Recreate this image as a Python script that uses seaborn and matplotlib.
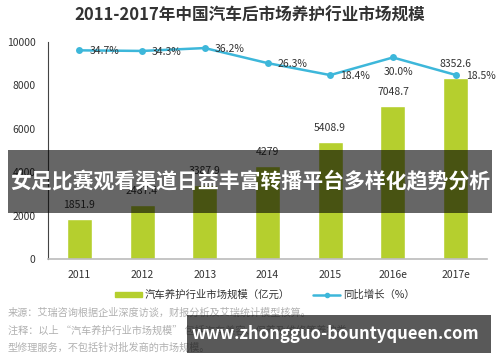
import numpy as np
import pandas as pd
import seaborn as sns
import matplotlib.pyplot as plt
from matplotlib.patches import Rectangle, Patch
from matplotlib.lines import Line2D

# Chart data
years = ['2011', '2012', '2013', '2014', '2015', '2016e', '2017e']
market_size = [1851.9, 2487.4, 3387.9, 4279, 5408.9, 7048.7, 8352.6]
market_labels = ['1851.9', '2487.4', '3387.9', '4279', '5408.9', '7048.7', '8352.6']
growth = [34.7, 34.3, 36.2, 26.3, 18.4, 30.0, 18.5]
growth_labels = ['34.7%', '34.3%', '36.2%', '26.3%', '18.4%', '30.0%', '18.5%']
y_ticks = [0, 2000, 4000, 6000, 8000, 10000]

title = '2011-2017年中国汽车后市场养护行业市场规模'
legend_bar = '汽车养护行业市场规模（亿元）'
legend_line = '同比增长（%）'
source_lines = [
    '来源：艾瑞咨询根据企业深度访谈，财报分析及艾瑞统计模型核算。',
    '注释：以上 “汽车养护行业市场规模” 包括汽车美容、保养及维修等养护类',
    '型修理服务，不包括针对批发商的市场规模。',
]
banner_text = '女足比赛观看渠道日益丰富转播平台多样化趋势分析'
watermark = 'www.zhongguo-bountyqueen.com'

BAR_GREEN = '#b5cf2e'
LINE_BLUE = '#3db7da'
TEXT = '#333333'

sns.set_theme(style='white')
plt.rcParams['font.family'] = ['Noto Sans CJK SC', 'DejaVu Sans']

df = pd.DataFrame({'year': years, 'size': market_size, 'growth': growth})
df['pos'] = np.arange(len(years))

fig = plt.figure(figsize=(5, 3.62), dpi=100)
ax = fig.add_axes([0.096, 0.2845, 0.878, 0.5995])

sns.barplot(data=df, x='year', y='size', color=BAR_GREEN, width=0.4,
            saturation=1, ax=ax)
ax.set_xlim(-0.5, 6.5)
ax.set_ylim(0, 10000)
ax.set_yticks(y_ticks)
ax.set_xlabel('')
ax.set_ylabel('')
ax.tick_params(axis='both', length=0, labelsize=7.5, colors=TEXT)
ax.tick_params(axis='x', pad=8)
ax.tick_params(axis='y', pad=9)
for s in ['top', 'right']:
    ax.spines[s].set_visible(False)
ax.spines['left'].set_color('#444444')
ax.spines['left'].set_linewidth(0.8)
ax.spines['bottom'].set_color('#bbbbbb')
ax.spines['bottom'].set_linewidth(1.2)

px = 72 / 100  # points per pixel
for i, (v, lab) in enumerate(zip(market_size, market_labels)):
    ax.annotate(lab, (i, v), xytext=(0, 14 * px), textcoords='offset points',
                ha='center', va='center', fontsize=7.5, color=TEXT)

ax2 = ax.twinx()
sns.lineplot(data=df, x='pos', y='growth', color=LINE_BLUE, linewidth=1.8,
             marker='o', markersize=5, markeredgewidth=0, ax=ax2)
ax2.set_ylim(-102.8, 40.2)
ax2.set_xlim(-0.5, 6.5)
ax2.axis('off')

for i, (g, lab) in enumerate(zip(growth, growth_labels)):
    if lab == '30.0%':
        off, ha = (6 * px, -15 * px), 'center'
    else:
        off, ha = (10 * px, -1 * px), 'left'
    ax2.annotate(lab, (i, g), xytext=off, textcoords='offset points',
                 ha=ha, va='center', fontsize=7.5, color=TEXT)

fig.text(0.5, 0.958, title, ha='center', va='center', fontsize=12,
         fontweight='bold', color=TEXT)

handles = [Patch(color=BAR_GREEN),
           Line2D([0], [0], color=LINE_BLUE, linewidth=1.8, marker='o',
                  markersize=3, markevery=[1])]
fig.legend(handles, [legend_bar, legend_line], loc='center',
           bbox_to_anchor=(0.53, 0.185), ncol=2, frameon=False,
           fontsize=7.5, handlelength=2.6, handleheight=0.5,
           columnspacing=2.2, handletextpad=0.3, labelcolor=TEXT)

for k, (line, y) in enumerate(zip(source_lines, [0.135, 0.086, 0.039])):
    fig.text(0.016, y, line, ha='left', va='center', fontsize=7.3,
             color='#b0b0b0')

# overlay banner across the middle
fig.add_artist(Rectangle((0.016, 0.4116), 0.968, 0.174,
                         transform=fig.transFigure, facecolor='black',
                         alpha=0.6, edgecolor='none', zorder=5))
fig.text(0.5, 0.497, banner_text, ha='center', va='center', fontsize=15,
         fontweight='bold', color='white', zorder=6)

# watermark box bottom right
fig.add_artist(Rectangle((0.374, 0.025), 0.608, 0.105,
                         transform=fig.transFigure, facecolor='black',
                         alpha=0.65, edgecolor='none', zorder=5))
fig.text(0.67, 0.077, watermark, ha='center', va='center', fontsize=12,
         fontweight='bold', color='white', zorder=6)

fig.savefig('out.png', dpi=100)
